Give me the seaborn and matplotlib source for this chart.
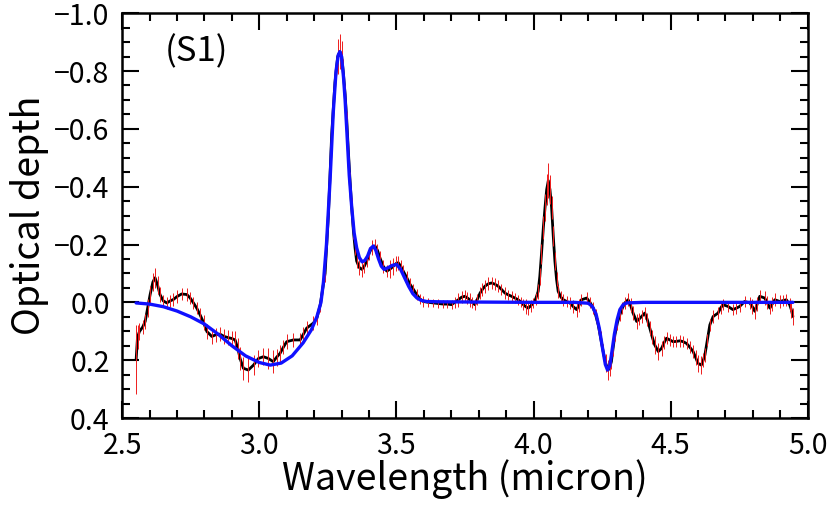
import numpy as np
import seaborn as sns
import matplotlib
matplotlib.use("Agg")
import matplotlib.pyplot as plt
from matplotlib.ticker import MultipleLocator

# observed spectrum (wavelength in micron, optical depth)
wl = [2.551, 2.556, 2.563, 2.575, 2.584, 2.593, 2.602, 2.612, 2.620, 2.629,
      2.638, 2.650, 2.663, 2.675, 2.687, 2.700, 2.717, 2.736, 2.748, 2.760,
      2.772, 2.784, 2.797, 2.809, 2.827, 2.842, 2.857, 2.872, 2.887, 2.900,
      2.912, 2.922, 2.930, 2.942, 2.960, 2.979, 2.997, 3.015, 3.033, 3.051,
      3.063, 3.076, 3.088, 3.100, 3.124, 3.149, 3.161, 3.173, 3.197, 3.210,
      3.222, 3.230, 3.240, 3.252, 3.264, 3.276, 3.286, 3.294, 3.300, 3.306,
      3.313, 3.319, 3.325, 3.331, 3.337, 3.343, 3.349, 3.355, 3.365, 3.374,
      3.383, 3.392, 3.401, 3.410, 3.422, 3.431, 3.440, 3.452, 3.465, 3.477,
      3.489, 3.500, 3.507, 3.516, 3.525, 3.538, 3.550, 3.562, 3.574, 3.586,
      3.598, 3.617, 3.635, 3.653, 3.671, 3.686, 3.701, 3.713, 3.726, 3.738,
      3.750, 3.759, 3.768, 3.777, 3.786, 3.795, 3.805, 3.814, 3.823, 3.835,
      3.847, 3.859, 3.871, 3.883, 3.896, 3.908, 3.920, 3.932, 3.944, 3.953,
      3.963, 3.972, 3.981, 3.990, 3.999, 4.008, 4.017, 4.023, 4.029, 4.036,
      4.042, 4.048, 4.054, 4.060, 4.066, 4.072, 4.078, 4.084, 4.090, 4.100,
      4.109, 4.121, 4.133, 4.145, 4.157, 4.166, 4.175, 4.194, 4.206, 4.218,
      4.227, 4.236, 4.245, 4.254, 4.263, 4.272, 4.278, 4.284, 4.290, 4.297,
      4.306, 4.315, 4.324, 4.333, 4.345, 4.354, 4.363, 4.376, 4.385, 4.394,
      4.406, 4.415, 4.424, 4.433, 4.442, 4.455, 4.467, 4.476, 4.485, 4.497,
      4.509, 4.521, 4.534, 4.546, 4.558, 4.570, 4.582, 4.591, 4.600, 4.612,
      4.619, 4.625, 4.634, 4.643, 4.655, 4.673, 4.682, 4.691, 4.709, 4.727,
      4.740, 4.752, 4.770, 4.789, 4.798, 4.807, 4.816, 4.825, 4.843, 4.852,
      4.862, 4.871, 4.880, 4.898, 4.910, 4.922, 4.934, 4.940, 4.946]
tau = [0.198, 0.120, 0.101, 0.085, 0.066, 0.020, -0.027, -0.070, -0.085, -0.060,
       -0.027, -0.005, 0.002, -0.005, -0.010, -0.020, -0.029, -0.027, -0.015, 0.002,
       0.020, 0.043, 0.070, 0.101, 0.118, 0.112, 0.110, 0.118, 0.122, 0.125,
       0.130, 0.160, 0.194, 0.228, 0.234, 0.217, 0.194, 0.188, 0.194, 0.205,
       0.190, 0.176, 0.155, 0.136, 0.130, 0.130, 0.110, 0.089, 0.072, 0.055,
       0.010, -0.040, -0.100, -0.300, -0.580, -0.760, -0.850, -0.867, -0.855, -0.800,
       -0.720, -0.630, -0.520, -0.420, -0.330, -0.250, -0.190, -0.143, -0.120, -0.114,
       -0.125, -0.143, -0.170, -0.189, -0.195, -0.180, -0.154, -0.125, -0.108, -0.115,
       -0.125, -0.135, -0.137, -0.125, -0.108, -0.085, -0.062, -0.045, -0.027, -0.012,
       -0.003, 0.000, 0.002, 0.004, 0.006, 0.006, 0.008, 0.000, -0.009, -0.018,
       -0.021, -0.015, -0.009, 0.000, 0.008, -0.010, -0.032, -0.045, -0.056, -0.064,
       -0.067, -0.063, -0.056, -0.045, -0.032, -0.026, -0.021, -0.015, -0.009, -0.002,
       0.008, 0.015, 0.020, 0.012, 0.002, -0.012, -0.038, -0.090, -0.166, -0.260,
       -0.328, -0.390, -0.421, -0.390, -0.328, -0.230, -0.143, -0.080, -0.038, -0.018,
       -0.009, -0.003, 0.002, 0.015, 0.025, 0.010, -0.009, -0.015, 0.000, 0.020,
       0.045, 0.078, 0.125, 0.170, 0.210, 0.234, 0.225, 0.205, 0.160, 0.112,
       0.070, 0.043, 0.020, 0.002, -0.009, 0.010, 0.037, 0.066, 0.058, 0.049,
       0.037, 0.060, 0.089, 0.120, 0.147, 0.170, 0.159, 0.140, 0.124, 0.130,
       0.136, 0.135, 0.133, 0.136, 0.142, 0.155, 0.170, 0.190, 0.211, 0.217,
       0.200, 0.182, 0.130, 0.078, 0.049, 0.037, 0.020, 0.008, 0.014, 0.025,
       0.020, 0.014, -0.003, 0.002, 0.015, 0.031, 0.005, -0.021, -0.015, 0.000,
       0.020, 0.005, -0.009, -0.003, -0.006, -0.009, 0.008, 0.025, 0.049]
err = [0.120, 0.040, 0.030, 0.025, 0.025, 0.030, 0.030, 0.030, 0.035, 0.030,
       0.025, 0.022, 0.022, 0.022, 0.022, 0.022, 0.022, 0.022, 0.022, 0.022,
       0.022, 0.022, 0.025, 0.025, 0.025, 0.025, 0.025, 0.025, 0.025, 0.025,
       0.030, 0.035, 0.040, 0.040, 0.040, 0.035, 0.030, 0.030, 0.035, 0.040,
       0.030, 0.030, 0.025, 0.025, 0.025, 0.025, 0.025, 0.025, 0.025, 0.025,
       0.025, 0.030, 0.030, 0.035, 0.040, 0.050, 0.060, 0.060, 0.050, 0.040,
       0.030, 0.030, 0.030, 0.030, 0.030, 0.030, 0.025, 0.025, 0.025, 0.025,
       0.022, 0.022, 0.022, 0.025, 0.025, 0.022, 0.022, 0.022, 0.022, 0.030,
       0.030, 0.025, 0.025, 0.022, 0.022, 0.022, 0.022, 0.020, 0.020, 0.018,
       0.018, 0.015, 0.015, 0.015, 0.015, 0.015, 0.015, 0.018, 0.025, 0.020,
       0.020, 0.020, 0.025, 0.020, 0.020, 0.020, 0.020, 0.022, 0.022, 0.022,
       0.022, 0.020, 0.020, 0.020, 0.020, 0.018, 0.018, 0.018, 0.018, 0.018,
       0.020, 0.025, 0.025, 0.020, 0.018, 0.020, 0.025, 0.030, 0.035, 0.040,
       0.045, 0.055, 0.060, 0.050, 0.040, 0.035, 0.030, 0.025, 0.022, 0.020,
       0.020, 0.020, 0.020, 0.022, 0.025, 0.022, 0.020, 0.020, 0.020, 0.022,
       0.022, 0.025, 0.025, 0.025, 0.030, 0.035, 0.030, 0.025, 0.025, 0.022,
       0.025, 0.022, 0.022, 0.020, 0.022, 0.025, 0.025, 0.025, 0.022, 0.022,
       0.022, 0.022, 0.025, 0.025, 0.030, 0.030, 0.025, 0.022, 0.020, 0.020,
       0.020, 0.020, 0.020, 0.020, 0.020, 0.020, 0.022, 0.025, 0.030, 0.030,
       0.025, 0.025, 0.022, 0.022, 0.022, 0.020, 0.020, 0.020, 0.020, 0.020,
       0.020, 0.020, 0.020, 0.020, 0.025, 0.025, 0.025, 0.022, 0.025, 0.022,
       0.022, 0.025, 0.022, 0.022, 0.020, 0.020, 0.022, 0.030, 0.030]

# fitted model (blue)
fit_wl = [2.551, 2.600, 2.650, 2.700, 2.750, 2.800, 2.850, 2.900, 2.950, 3.000,
          3.040, 3.080, 3.120, 3.160, 3.190, 3.210, 3.225, 3.234, 3.245, 3.258,
          3.270, 3.280, 3.288, 3.294, 3.300, 3.307, 3.313, 3.320, 3.328, 3.337,
          3.346, 3.355, 3.365, 3.375, 3.385, 3.395, 3.405, 3.416, 3.425, 3.435,
          3.445, 3.455, 3.470, 3.485, 3.501, 3.515, 3.530, 3.545, 3.560, 3.575,
          3.590, 3.610, 3.650, 3.800, 4.000, 4.150, 4.200, 4.215, 4.228, 4.240,
          4.252, 4.262, 4.270, 4.278, 4.286, 4.295, 4.305, 4.315, 4.327, 4.340,
          4.400, 4.946]
fit_tau = [0.002, 0.006, 0.015, 0.030, 0.050, 0.075, 0.110, 0.150, 0.185, 0.208,
           0.217, 0.210, 0.185, 0.140, 0.095, 0.050, 0.000, -0.070, -0.200, -0.420,
           -0.660, -0.800, -0.855, -0.867, -0.850, -0.780, -0.700, -0.580, -0.440, -0.330,
           -0.240, -0.189, -0.155, -0.140, -0.145, -0.160, -0.185, -0.195, -0.180, -0.150,
           -0.125, -0.114, -0.120, -0.128, -0.131, -0.115, -0.085, -0.055, -0.030, -0.015,
           -0.007, -0.003, -0.002, -0.001, 0.000, 0.000, 0.003, 0.015, 0.040, 0.090,
           0.160, 0.215, 0.234, 0.220, 0.170, 0.110, 0.060, 0.025, 0.008, 0.002,
           0.000, 0.000]

sns.set_style("ticks")
plt.rcParams['font.family'] = ['Noto Sans CJK JP', 'DejaVu Sans']
plt.rcParams['text.color'] = 'black'
plt.rcParams['axes.labelcolor'] = 'black'

fig, ax = plt.subplots(figsize=(8.31, 5.07), dpi=100)
fig.subplots_adjust(left=0.147, right=0.972, top=0.974, bottom=0.1755)

sns.lineplot(x=wl, y=tau, ax=ax, color="black", lw=2.0, sort=False)
ax.vlines(wl, np.array(tau) - np.array(err), np.array(tau) + np.array(err),
          color="#ee1c1c", lw=0.7, zorder=3)
sns.lineplot(x=fit_wl, y=fit_tau, ax=ax, color="#1010ff", lw=2.4, sort=False, zorder=4)

ax.set_xlim(2.5, 5.0)
ax.set_ylim(0.4, -1.0)
ax.xaxis.set_major_locator(MultipleLocator(0.5))
ax.xaxis.set_minor_locator(MultipleLocator(0.1))
ax.yaxis.set_major_locator(MultipleLocator(0.2))
ax.yaxis.set_minor_locator(MultipleLocator(0.05))
ax.xaxis.set_major_formatter(plt.FuncFormatter(lambda v, p: f"{v:.1f}"))
ax.yaxis.set_major_formatter(plt.FuncFormatter(lambda v, p: f"{v:.1f}".replace("-", "\u2212") if abs(v) > 1e-9 else "0.0"))

ax.tick_params(which="both", direction="in", top=True, right=True, width=1.5, colors="black")
ax.tick_params(which="major", length=12, labelsize=20.5, pad=9)
ax.tick_params(which="minor", length=6)
for s in ax.spines.values():
    s.set_linewidth(1.8)
    s.set_color("black")

ax.set_xlabel("Wavelength (micron)", fontsize=27, labelpad=-1)
ax.set_ylabel("Optical depth", fontsize=27, labelpad=4)
ax.text(0.108, 0.905, "(S1)", transform=ax.transAxes, fontsize=25, ha="center", va="center")

fig.savefig("out.png", dpi=100)
